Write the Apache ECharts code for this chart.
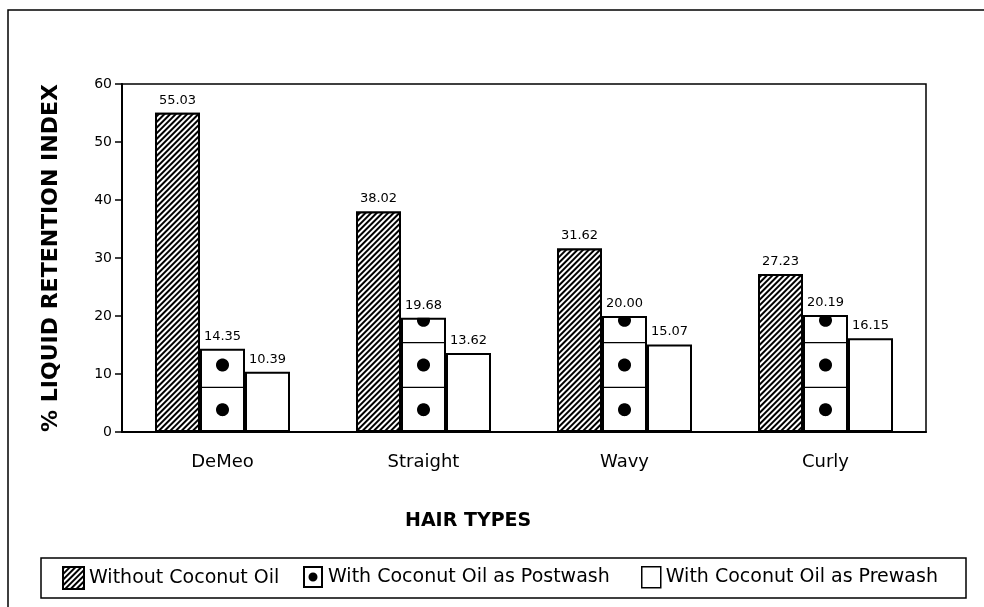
<!DOCTYPE html>
<html>
<head>
<meta charset="utf-8">
<title>Liquid retention index by hair type</title>
<script src="https://cdn.jsdelivr.net/npm/echarts@6/dist/echarts.min.js"></script>
<style>
  html, body { margin: 0; padding: 0; background: #fff; }
  #chart { width: 984px; height: 607px; }
</style>
</head>
<body>
<div id="chart"></div>
<script>
  // values
  const hairTypes = ['DeMeo', 'Straight', 'Wavy', 'Curly']
  const withoutOil = [55.03, 38.02, 31.62, 27.23]
  const postwash = [14.35, 19.68, 20.00, 20.19]
  const prewash = [10.39, 13.62, 15.07, 16.15]
  const yMin = 0
  const yMax = 60
  const yStep = 10

  const font = 'DejaVu Sans'
  const barWidth = 45
  const cellSize = 7.7   // height of one dotted box in the postwash bars (axis units)
  const dotRadius = 6.5

  // dividers + dots drawn over the postwash bar (middle bar of each group)
  function renderCells(params, api) {
    const idx = api.value(0)
    const val = api.value(1)
    const base = api.coord([idx, 0])
    const topY = api.coord([idx, val])[1]
    const x0 = base[0] - barWidth / 2
    const x1 = base[0] + barWidth / 2
    const children = []
    for (let k = 1; k * cellSize < val - 0.3; k++) {
      const y = api.coord([idx, k * cellSize])[1]
      children.push({
        type: 'line',
        shape: { x1: x0, y1: y, x2: x1, y2: y },
        style: { stroke: '#000', lineWidth: 1.2 }
      })
    }
    for (let k = 0; k < 20; k++) {
      const cy = api.coord([idx, (k + 0.5) * cellSize])[1]
      if (cy + dotRadius <= topY + 1) break
      // circle clipped at the bar top
      const pts = []
      for (let a = 0; a < 48; a++) {
        const t = a / 48 * Math.PI * 2
        pts.push([base[0] + dotRadius * Math.cos(t), Math.max(topY, cy + dotRadius * Math.sin(t))])
      }
      children.push({ type: 'polygon', shape: { points: pts }, style: { fill: '#000' } })
    }
    return { type: 'group', children }
  }

  const valueLabel = {
    show: true,
    position: 'top',
    distance: 6,
    color: '#000',
    fontSize: 13,
    fontFamily: font,
    formatter: p => p.value.toFixed(2)
  }

  const legendText = { color: '#000', fontSize: 19, fontFamily: font }

  const chart = echarts.init(document.getElementById('chart'))
  chart.setOption({
    animation: false,
    backgroundColor: '#fff',
    textStyle: { fontFamily: font, color: '#000' },
    title: {
      text: 'HAIR TYPES',
      left: 405,
      top: 512,
      padding: 0,
      textStyle: { fontSize: 19, fontWeight: 'bold', fontFamily: font, color: '#000' }
    },
    graphic: [
      {
        type: 'rect',
        shape: { x: 8, y: 10, width: 1200, height: 800 },
        style: { fill: 'none', stroke: '#000', lineWidth: 1.5 },
        silent: true
      },
      {
        type: 'rect',
        shape: { x: 41, y: 558, width: 925, height: 40 },
        style: { fill: 'none', stroke: '#000', lineWidth: 1.5 },
        silent: true
      }
    ],
    legend: [
      {
        left: 62, top: 566, padding: 0,
        itemWidth: 21, itemHeight: 22,
        textStyle: legendText,
        data: [{ name: 'Without Coconut Oil', icon: 'rect' }]
      },
      {
        left: 303, top: 566, padding: 0,
        itemWidth: 20, itemHeight: 22,
        textStyle: legendText,
        data: [{
          name: 'With Coconut Oil as Postwash',
          icon: 'path://M0,0H20V22H0Z M2,2V20H18V2Z M10,6.5A4.5,4.5 0 1 0 10.01,6.5Z',
          itemStyle: { color: '#000', borderWidth: 0, decal: 'none' }
        }]
      },
      {
        left: 641, top: 566, padding: 0,
        itemWidth: 19, itemHeight: 21,
        textStyle: legendText,
        data: [{
          name: 'With Coconut Oil as Prewash',
          icon: 'rect',
          itemStyle: { color: '#fff', borderColor: '#000', borderWidth: 1.5 }
        }]
      }
    ],
    grid: {
      left: 122,
      right: 58,
      top: 84,
      bottom: 175,
      show: true,
      borderColor: '#000',
      borderWidth: 1.5,
      backgroundColor: 'transparent'
    },
    xAxis: {
      type: 'category',
      data: hairTypes,
      axisLine: { lineStyle: { color: '#000', width: 2 } },
      axisTick: { show: false },
      axisLabel: { color: '#000', fontSize: 18, fontFamily: font, margin: 21 }
    },
    yAxis: {
      type: 'value',
      min: yMin,
      max: yMax,
      interval: yStep,
      name: '% LIQUID RETENTION INDEX',
      nameLocation: 'middle',
      nameGap: 60,
      nameTextStyle: { color: '#000', fontSize: 22, fontWeight: 'bold', fontFamily: font },
      axisLine: { show: true, lineStyle: { color: '#000', width: 2 } },
      axisTick: { show: true, length: 7, lineStyle: { color: '#000', width: 1.5 } },
      axisLabel: { color: '#000', fontSize: 14, fontFamily: font, margin: 10 },
      splitLine: { show: false }
    },
    series: [
      {
        name: 'Without Coconut Oil',
        type: 'bar',
        barWidth: barWidth,
        barGap: '0%',
        data: withoutOil,
        itemStyle: {
          color: '#fff',
          borderColor: '#000',
          borderWidth: 2,
          decal: {
            symbol: 'rect',
            symbolSize: 1,
            color: '#000',
            backgroundColor: '#fff',
            dashArrayX: [1, 0],
            dashArrayY: [1.5, 1.5],
            rotation: -Math.PI / 4
          }
        },
        label: valueLabel
      },
      {
        name: 'With Coconut Oil as Postwash',
        type: 'bar',
        barWidth: barWidth,
        barGap: '0%',
        data: postwash,
        itemStyle: { color: '#fff', borderColor: '#000', borderWidth: 2 },
        label: valueLabel
      },
      {
        name: 'With Coconut Oil as Prewash',
        type: 'bar',
        barWidth: barWidth,
        barGap: '0%',
        data: prewash,
        itemStyle: { color: '#fff', borderColor: '#000', borderWidth: 2 },
        label: valueLabel
      },
      {
        name: 'postwashCells',
        type: 'custom',
        renderItem: renderCells,
        data: postwash.map((v, i) => [i, v]),
        encode: { x: 0, y: 1 },
        z: 5,
        silent: true
      }
    ]
  })
</script>
</body>
</html>
